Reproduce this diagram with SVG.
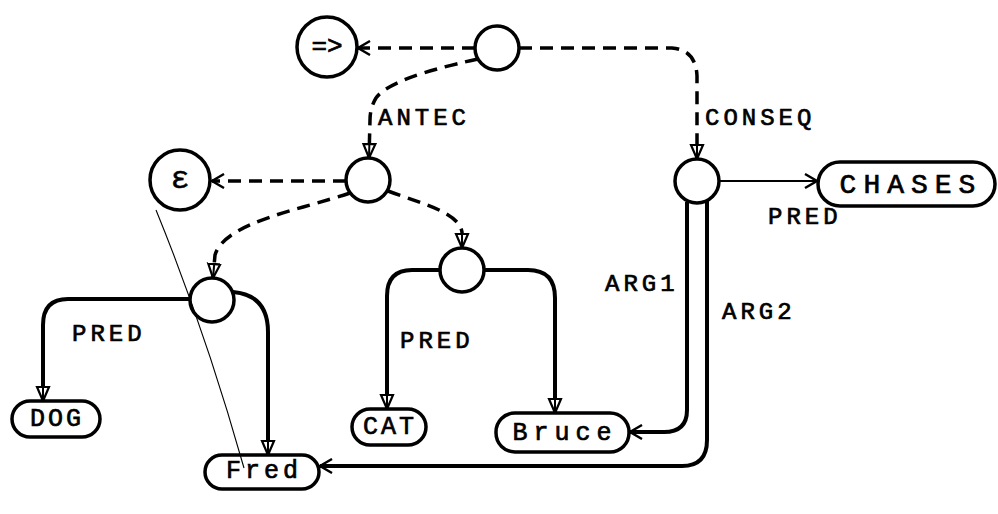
<svg xmlns="http://www.w3.org/2000/svg" width="998" height="514" viewBox="0 0 998 514">
<defs>
<style>
.c{fill:#fff;stroke:#000;stroke-width:3.5}
.b{fill:#fff;stroke:#000;stroke-width:3.5}
.t{font-family:"Liberation Mono","DejaVu Sans Mono",monospace;font-size:25px;fill:#000;stroke:#000;stroke-width:0.7;text-anchor:middle;dominant-baseline:central}
.l{font-family:"Liberation Mono","DejaVu Sans Mono",monospace;font-size:24px;fill:#000;stroke:#000;stroke-width:0.7;letter-spacing:4px}
.d{fill:none;stroke:#000;stroke-width:3.5;stroke-dasharray:13 8}
.s{fill:none;stroke:#000;stroke-width:4}
.n{fill:none;stroke:#000;stroke-width:2}
</style>
<marker id="v" viewBox="0 0 16 16" refX="14" refY="8" markerWidth="16" markerHeight="16" markerUnits="userSpaceOnUse" orient="auto">
<path d="M2,1 L14,8 L2,15" fill="none" stroke="#000" stroke-width="2.4"/>
</marker>
<marker id="tr" viewBox="0 0 16 16" refX="15" refY="8" markerWidth="16" markerHeight="16" markerUnits="userSpaceOnUse" orient="auto">
<path d="M1,2 L15,8 L1,14 Z" fill="#fff" stroke="#000" stroke-width="2.2"/>
<path d="M0,8 L15,8" stroke="#000" stroke-width="2"/>
</marker>
</defs>
<g id="connectors">
<path class="d" d="M475,48 L358,48" marker-end="url(#v)"/>
<path class="d" d="M519,48 L672,48 Q696,50 697,76 L697,159" marker-end="url(#tr)"/>
<path class="d" d="M478,59 Q390,78 376,98 Q370,108 370,120 L369,158" marker-end="url(#tr)"/>
<path class="d" d="M346,181 L212,181" marker-end="url(#v)"/>
<path class="d" d="M350,193 C300,210 225,222 215,255 L213,278" marker-end="url(#tr)"/>
<path class="d" d="M388,191 C425,205 458,212 462,232 L462,248" marker-end="url(#tr)"/>
<path class="s" d="M190,299 L68,299 Q43,299 43,325 L43,401" marker-end="url(#tr)"/>
<path class="s" d="M233,292 Q268,295 268,332 L268,455" marker-end="url(#tr)"/>
<path class="s" d="M440,270 L412,270 Q387,270 387,296 L387,409" marker-end="url(#tr)"/>
<path class="s" d="M484,270 L528,270 Q555,270 555,298 L555,413" marker-end="url(#tr)"/>
<path class="n" d="M719,181 L817,181" marker-end="url(#v)"/>
<path class="s" d="M687,202 L687,410 Q687,432 664,432 L630,432" marker-end="url(#v)"/>
<path class="s" d="M707,200 L707,440 Q707,466 682,466 L320,466" marker-end="url(#v)"/>
</g>
<g id="n-imp"><circle class="c" cx="327" cy="47" r="30"/><text class="t" x="327" y="47" style="font-size:26px">=&gt;</text></g>
<g id="n-top"><circle class="c" cx="497" cy="48" r="22"/></g>
<g id="n-and"><circle class="c" cx="180" cy="180" r="30"/><text class="t" x="180" y="179" style="font-size:32px;stroke-width:0.5">ε</text></g>
<g id="n-antec"><circle class="c" cx="368" cy="180" r="22"/></g>
<g id="n-conseq"><circle class="c" cx="697" cy="181" r="22"/></g>
<g id="n-dogfred"><circle class="c" cx="212" cy="300" r="22"/></g>
<g id="n-catbruce"><circle class="c" cx="462" cy="270" r="22"/></g>
<g id="n-chases"><rect class="b" x="818" y="162" width="177" height="44" rx="22"/><text class="t" x="911" y="185" style="font-size:28px;letter-spacing:7px">CHASES</text></g>
<g id="n-dog"><rect class="b" x="12" y="401" width="88" height="36" rx="18"/><text class="t" x="57" y="419" style="letter-spacing:3px">DOG</text></g>
<g id="n-fred"><rect class="b" x="205" y="455" width="114" height="34" rx="17"/><text class="t" x="264" y="471" style="letter-spacing:4px">Fred</text></g>
<g id="n-cat"><rect class="b" x="352" y="409" width="74" height="36" rx="18"/><text class="t" x="390" y="427" style="letter-spacing:3px">CAT</text></g>
<g id="n-bruce"><rect class="b" x="496" y="413" width="133" height="39" rx="19"/><text class="t" x="565" y="433" style="letter-spacing:6px">Bruce</text></g>
<g id="labels">
<text class="l" x="378" y="125">ANTEC</text>
<text class="l" x="705" y="125">CONSEQ</text>
<text class="l" x="768" y="224">PRED</text>
<text class="l" x="605" y="291">ARG1</text>
<text class="l" x="722" y="319">ARG2</text>
<text class="l" x="72" y="341">PRED</text>
<text class="l" x="400" y="348">PRED</text>
</g>
<path id="pencil" d="M156,210 Q205,330 244,468" fill="none" stroke="#000" stroke-width="1.1"/>
</svg>
